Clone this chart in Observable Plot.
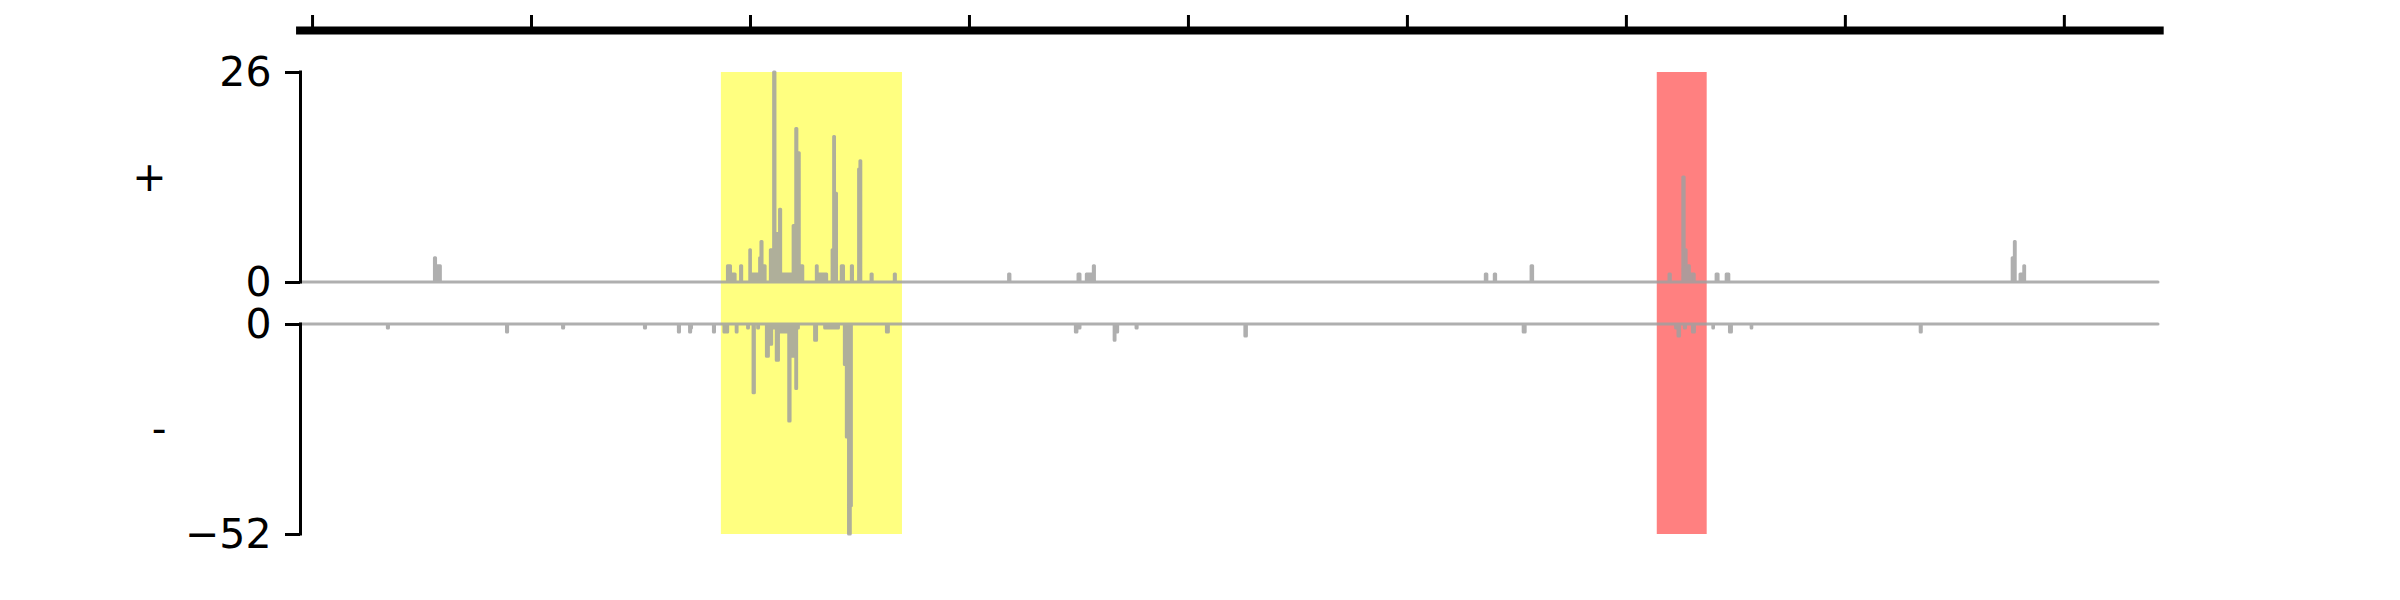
<!DOCTYPE html>
<html><head><meta charset="utf-8">
<script src="https://cdn.jsdelivr.net/npm/d3@7"></script>
<script src="https://cdn.jsdelivr.net/npm/@observablehq/plot@0.6"></script>
<style>
html,body{margin:0;padding:0;background:#fff;}
#chart{position:relative;width:2400px;height:600px;}
</style></head><body><div id="chart"></div>
<script>
// ---- data ----
const xDomain = [55, 8540];                       // genomic window (bp)
const topTicks = [110, 1110, 2110, 3110, 4110, 5110, 6110, 7110, 8110];
const topBarExtent = [37, 8566];
const highlightStart = [1977, 6251];
const highlightEnd = [2804, 6479];
const highlightKind = ["yellow", "red"];
const plusTicks = [0, 26];
const minusTicks = [-52, 0];
const strandLabels = ["+", "-"];

// coverage breakpoints (step-after): position, value
const plusPos = [55, 669, 674, 696, 2007, 2021, 2042, 2067, 2072, 2109, 2112, 2154, 2160, 2165, 2179,
  2203, 2218, 2224, 2245, 2250, 2307, 2319, 2324, 2335, 2351, 2413, 2417, 2460, 2485, 2492, 2496, 2505,
  2527, 2537, 2573, 2578, 2606, 2612, 2616, 2663, 2668, 2769, 2774, 3291, 3297, 3608, 3617, 3646, 3678, 3683,
  5468, 5475, 5509, 5515, 5677, 5684, 6307, 6313, 6370, 6376, 6385, 6400, 6422, 6522, 6531, 6568, 6580,
  7874, 7884, 7888, 7910, 7927, 7931, 8540];
const plusVal = [0, 3, 2, 0, 2, 1, 0, 2, 0, 4, 1, 3, 5, 2, 0,
  4, 26, 6, 9, 1, 7, 19, 16, 2, 0, 2, 1, 0, 4, 18, 11, 0,
  2, 0, 2, 0, 14, 15, 0, 1, 0, 1, 0, 1, 0, 1, 0, 1, 2, 0,
  1, 0, 1, 0, 2, 0, 1, 0, 13, 4, 2, 1, 0, 1, 0, 1, 0,
  3, 5, 0, 1, 2, 0, 0];

const minusPos = [55, 454, 459, 998, 1003, 1254, 1259, 1628, 1633, 1783, 1788, 1834, 1839, 1843, 1943, 1948,
  1991, 1996, 2003, 2008, 2047, 2051, 2099, 2103, 2124, 2130, 2145, 2149, 2185, 2194, 2209, 2230, 2240,
  2287, 2293, 2319, 2323, 2331, 2405, 2414, 2451, 2514, 2541, 2550, 2560, 2568, 2573, 2733, 2742,
  3596, 3603, 3617, 3773, 3777, 3789, 3873, 3878, 4370, 4377, 5641, 5650,
  6337, 6348, 6355, 6377, 6382, 6414, 6423, 6507, 6510, 6583, 6592, 6682, 6685, 7454, 7459, 8540];
const minusVal = [0, -1, 0, -2, 0, -1, 0, -1, 0, -2, 0, -2, -1, 0, -2, 0,
  -2, -1, -2, 0, -2, 0, -1, 0, -17, 0, -1, 0, -8, -5, -1, -9, -2,
  -24, -8, -16, -1, 0, -4, 0, -1, 0, -10, -28, -52, -45, 0, -2, 0,
  -2, -1, 0, -4, -2, 0, -1, 0, -3, 0, -2, 0,
  -1, -3, 0, -1, 0, -2, 0, -1, 0, -2, 0, -1, 0, -2, 0, 0];

// ---- build tables ----
const plusSeries = plusPos.map((x, i) => ({x, y: plusVal[i]}));
const minusSeries = minusPos.map((x, i) => ({x, y: minusVal[i]}));
const highlights = highlightStart.map((s, i) => ({start: s, end: highlightEnd[i], kind: highlightKind[i]}));

const GREY = "#a0a0a0";
const HL = {yellow: "#ffff80", red: "#ff8080"};
const FONT = "DejaVu Sans";
const fmt = d => d < 0 ? "\u2212" + Math.abs(d) : String(d);
const common = {width: 2400, marginLeft: 300, marginRight: 242, x: {domain: xDomain, axis: null}};

const chart = document.getElementById("chart");
function place(svg, top) {
  svg.style.position = "absolute";
  svg.style.left = "0px";
  svg.style.top = top + "px";
  svg.style.background = "transparent";
  svg.style.overflow = "visible";
  svg.style.fontFamily = FONT;
  svg.style.maxWidth = "none";
  chart.appendChild(svg);
}

// highlight bands behind both panels
place(Plot.plot({
  ...common, height: 600, marginTop: 72, marginBottom: 66,
  marks: [
    Plot.rect(highlights.filter(d => d.kind === "yellow"), {x1: "start", x2: "end", fill: HL.yellow}),
    Plot.rect(highlights.filter(d => d.kind === "red"), {x1: "start", x2: "end", fill: HL.red})
  ]
}), 0);

// top scale bar
place(Plot.plot({
  ...common, height: 45, marginTop: 15, marginBottom: 15,
  y: {domain: [0, 1], axis: null},
  marks: [
    Plot.tickX(topTicks, {x: d => d, stroke: "black", strokeWidth: 3}),
    Plot.ruleY([0], {x1: topBarExtent[0], x2: topBarExtent[1], stroke: "black", strokeWidth: 8})
  ]
}), 0);

function panel(series, domain, ticks, label, mt, mb, h) {
  return Plot.plot({
    ...common, height: h, marginTop: mt, marginBottom: mb,
    y: {domain, axis: null},
    marks: [
      Plot.areaY(series, {x: "x", y: "y", curve: "step-after", fill: GREY, stroke: GREY,
        strokeWidth: 3, strokeLinejoin: "round", opacity: 0.83}),
      Plot.axisY(ticks, {anchor: "left", label: null, tickSize: 15, tickPadding: 14, fontSize: 41,
        strokeWidth: 3, tickFormat: fmt}),
      Plot.ruleX([xDomain[0]], {y1: domain[0], y2: domain[1], stroke: "black", strokeWidth: 3, strokeLinecap: "square"}),
      Plot.text([label], {frameAnchor: "left", dx: -134, textAnchor: "end", fontSize: 41, fill: "black"})
    ]
  });
}

place(panel(plusSeries, [0, 26], plusTicks, strandLabels[0], 22, 18, 250), 50);
place(panel(minusSeries, [-52, 0], minusTicks, strandLabels[1], 24, 26, 260), 300);
</script></body></html>
